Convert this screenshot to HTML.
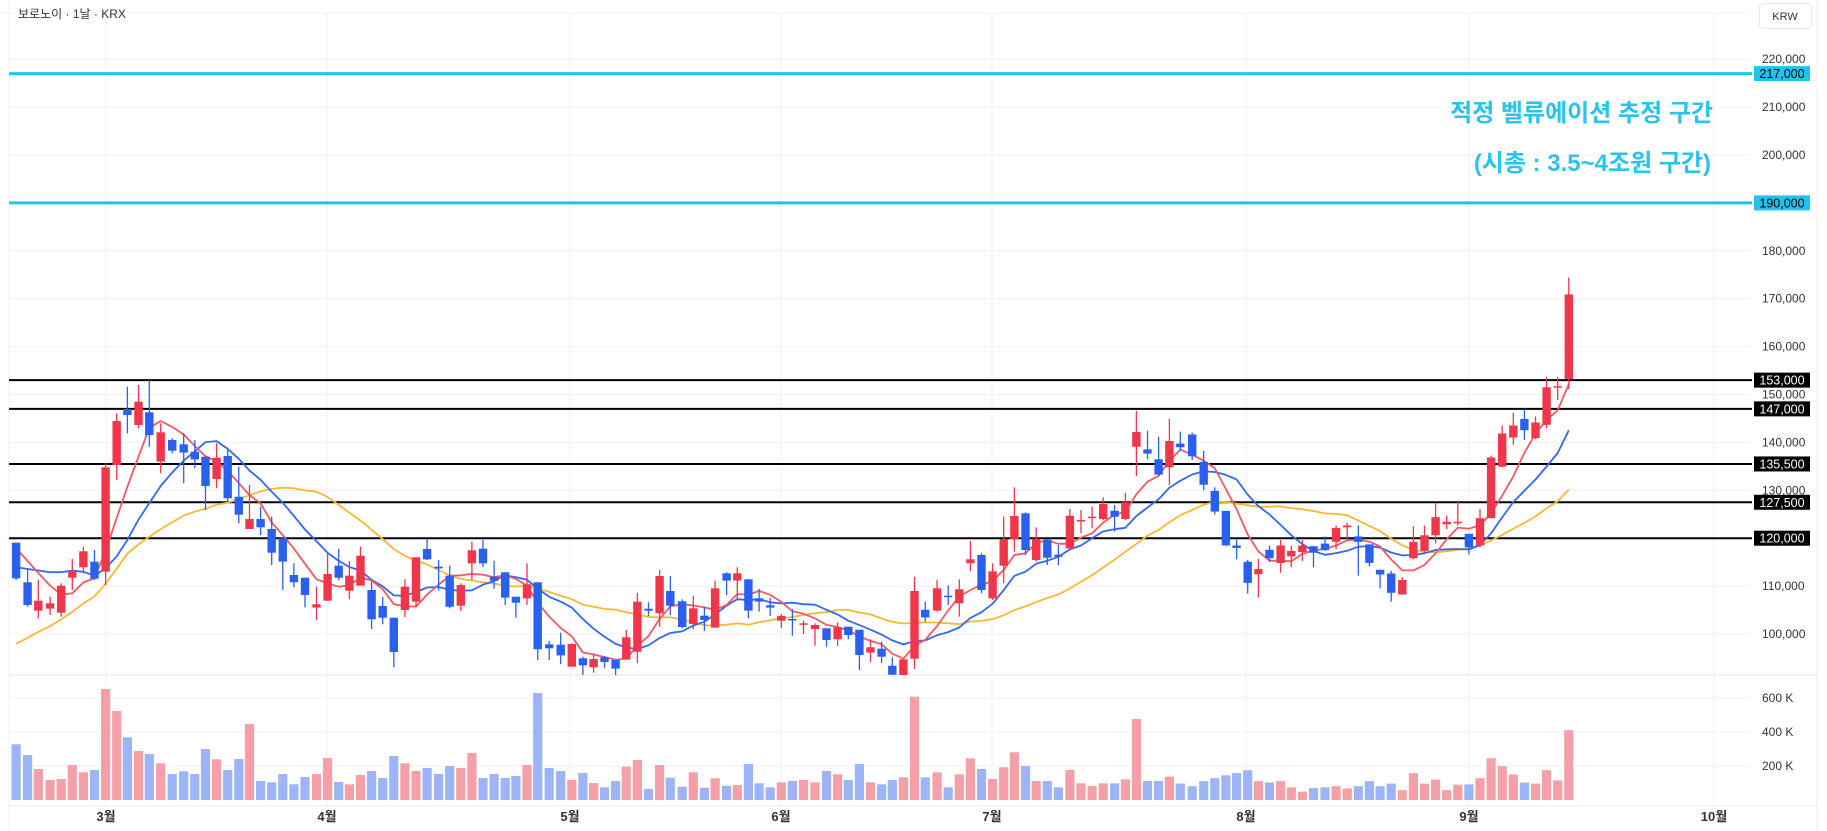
<!DOCTYPE html>
<html><head><meta charset="utf-8"><style>
html,body{margin:0;padding:0;background:#fff;width:1827px;height:831px;overflow:hidden}
svg{display:block}
text{font-family:"Liberation Sans","Noto Sans CJK KR",sans-serif}
</style></head><body>
<svg id="s" width="1827" height="831" xmlns="http://www.w3.org/2000/svg"></svg>
<script>
const S=document.getElementById('s');let h='';
const yP=p=>634-(p-100)*4.79;
const RED='#f0364a',BLUE='#2a60f0',VR='#f5a0a8',VB='#9db5f7';
h+='<rect x="0" y="0" width="1827" height="831" fill="#fff"/>';
h+='<line x1="1817" y1="0" x2="1817" y2="831" stroke="#eceef2"/>';
h+='<line x1="9" y1="0" x2="9" y2="831" stroke="#f2f3f5"/>';
h+='<line x1="0" y1="13" x2="1750" y2="13" stroke="#f2f3f5"/>';
for(let p=100;p<=220;p+=10){const y=yP(p);h+=`<line x1="9" y1="${y}" x2="1750" y2="${y}" stroke="#f0f1f3"/>`;
h+=`<text x="1762" y="${y+4}" font-size="12" fill="#333">${p},000</text>`;}
[[698,'600 K'],[732,'400 K'],[766,'200 K']].forEach(([y,t])=>{h+=`<line x1="9" y1="${y}" x2="1750" y2="${y}" stroke="#f0f1f3"/><text x="1762" y="${y+4}" font-size="12" fill="#333">${t}</text>`});
h+='<line x1="9" y1="675" x2="1817" y2="675" stroke="#e0e3e8"/>';
h+='<line x1="9" y1="806" x2="1817" y2="806" stroke="#eceef2"/>';
[[106,'3월'],[327,'4월'],[570,'5월'],[781,'6월'],[992,'7월'],[1246,'8월'],[1469,'9월'],[1714,'10월']].forEach(([x,t])=>{
h+=`<line x1="${x}" y1="13" x2="${x}" y2="806" stroke="#f0f1f3"/><text x="${x}" y="821" font-size="13" font-weight="bold" fill="#333" text-anchor="middle">${t}</text>`});
const z2=[[42,578,685,578,690,'b'],[72,697,765,655,770,'b'],[100,752,782,690,805,'r'],[131,760,776,740,795,'r'],[160,707,788,700,800,'r'],[189,665,683,627,720,'r'],[218,604,652,590,670,'r'],[247,635,686,600,690,'b'],[276,352,665,340,705,'r'],[305,213,345,190,390,'r'],[333,177,195,110,250,'b'],[362,155,225,105,235,'r'],[390,187,255,90,290,'b'],[420,247,335,220,370,'r'],[450,270,302,265,310,'b'],[480,283,308,250,400,'b'],[509,305,328,270,355,'b'],[537,320,408,320,480,'b'],[566,323,387,280,415,'r'],[595,318,445,300,455,'b'],[624,440,494,350,520,'b'],[652,507,537,405,537,'r'],[681,507,532,470,555,'b'],[710,537,608,500,645,'b'],[739,565,635,565,720,'b'],[768,675,697,640,712,'b'],[797,683,735,683,772,'b'],[827,763,773,710,810,'r'],[856,672,752,610,752,'r'],[885,647,683,596,690,'b'],[913,677,722,633,748,'r'],[942,617,707,590,697,'r'],[971,720,808,693,837,'b'],[1000,768,803,740,823,'b'],[1029,803,906,803,952,'b'],[1058,710,780,688,802,'r'],[1087,622,755,622,770,'r'],[1116,597,628,568,630,'b'],[1146,650,655,630,722,'b'],[1175,677,770,647,775,'b'],[1204,705,767,700,783,'r'],[1233,601,640,575,690,'r'],[1262,596,640,570,650,'b'],[1291,680,692,632,716,'b'],[1320,667,743,667,765,'b'],[1348,740,758,740,803,'b'],[1377,703,745,640,765,'r'],[1405,697,898,697,930,'b'],[1435,883,895,873,930,'b'],[1465,884,916,848,942,'b'],[1494,882,950,880,950,'r'],[1523,925,946,920,975,'b'],[1551,927,952,915,968,'r']];
const z3=[[64,862,876,858,893,'b'],[93,870,896,870,915,'b'],[121,802,869,780,869,'r'],[150,695,845,668,880,'r'],[179,716,722,697,738,'b'],[208,618,730,600,770,'r'],[236,663,707,618,735,'b'],[267,694,771,688,775,'b'],[296,715,762,677,778,'r'],[325,737,750,710,783,'b'],[353,655,773,632,773,'r'],[383,610,632,607,675,'b'],[411,610,632,592,690,'r'],[440,628,722,628,745,'b'],[468,685,695,657,725,'b'],[497,706,713,683,738,'b'],[526,738,752,732,775,'r'],[555,747,750,717,797,'b'],[584,760,763,752,792,'r'],[614,765,777,760,827,'r'],[644,775,810,775,830,'b'],[673,772,808,757,828,'r'],[701,770,795,770,808,'b'],[730,779,855,779,900,'b'],[759,832,848,808,877,'r'],[788,836,860,815,878,'b'],[816,887,914,862,914,'b'],[845,868,915,868,915,'r'],[874,663,866,620,897,'r'],[902,719,742,695,755,'b'],[933,655,722,630,725,'r'],[962,677,678,646,705,'b'],[991,658,700,628,740,'r'],[1020,568,580,513,603,'r'],[1049,555,660,550,670,'b'],[1078,604,685,580,690,'r'],[1107,507,587,440,640,'r'],[1135,438,508,352,545,'r'],[1164,430,540,427,555,'b'],[1192,506,570,472,575,'r'],[1221,509,563,507,585,'b'],[1250,554,560,525,585,'b'],[1280,437,535,417,540,'r'],[1309,450,453,420,490,'r'],[1338,440,442,410,475,'r'],[1367,402,447,382,450,'r'],[1397,422,440,405,485,'b'],[1425,397,447,368,450,'r'],[1454,186,230,123,318,'r'],[1483,238,251,182,268,'b'],[1512,268,314,200,318,'b'],[1540,213,292,147,345,'r']];
const z4=[[27,505,515,472,525,'b'],[58,480,540,475,550,'b'],[88,555,618,525,633,'b'],[117,635,692,625,700,'b'],[146,690,785,690,787,'b'],[174,785,792,767,823,'b'],[203,830,888,825,917,'b'],[231,850,864,822,928,'r'],[260,797,820,785,830,'b'],[289,785,833,770,860,'r'],[317,800,815,785,845,'r'],[346,785,803,770,828,'r'],[375,787,805,787,845,'b'],[405,780,798,760,800,'b'],[434,737,775,730,795,'r'],[463,730,735,722,770,'r'],[492,760,775,730,868,'b'],[521,782,833,782,843,'b'],[549,852,865,852,903,'b'],[578,862,915,855,940,'b'],[607,880,920,872,920,'r'],[636,775,820,732,823,'r'],[665,757,800,730,805,'r'],[694,707,757,668,780,'r'],[723,720,727,703,740,'r'],[752,720,722,665,730,'r'],[781,753,790,753,810,'b'],[810,710,785,685,790,'r'],[839,543,710,538,710,'r'],[868,477,568,455,570,'r'],[897,455,488,420,508,'r'],[926,437,468,410,495,'b'],[955,447,490,430,493,'r'],[984,350,453,322,463,'r'],[1013,347,350,322,385,'r'],[1042,95,328,48,355,'r']];
const bars=[];
const add=(arr,x0,y0,vs)=>arr.forEach(a=>bars.push({x:x0+a[0]/2.613,t:y0+a[1]/vs,b:y0+a[2]/vs,wt:y0+a[3]/vs,wb:y0+a[4]/vs,c:a[5]}));
add(z2,0,350,3);add(z3,580,370,3);add(z4,1170,260,2.75);
const v2=[1183,1215,1257,1290,1287,1245,1267,1260,1017,1083,1162,1203,1212,1240,1272,1264,1272,1197,1228,1260,1227,1122,1293,1297,1272,1303,1281,1272,1224,1296,1303,1275,1263,1284,1218,1240,1263,1254,1272,1248,1254,1209,1284,1272,1284,1278,1245,1029,1254,1263,1290,1269,1299];
const v3=[1252,1233,1190,1170,1257,1185,1223,1250,1207,1253,1225,1247,1245,1182,1240,1252,1237,1233,1230,1237,1203,1213,1230,1182,1237,1243,1230,1222,980,1222,1207,1252,1213,1165,1197,1227,1192,1147,1188,1233,1233,1252,1200,1240,1248,1240,1240,1228,1047,1233,1233,1220];
const v4=[1440,1447,1433,1425,1417,1411,1403,1433,1437,1433,1450,1462,1452,1450,1447,1453,1447,1433,1447,1440,1458,1411,1440,1429,1458,1443,1442,1425,1370,1392,1415,1437,1440,1403,1431,1293];
const vols=[...v2.map(v=>350+v/3),...v3.map(v=>370+v/3),...v4.map(v=>260+v/2.75)];
bars.forEach((b,i)=>{const vt=vols[i];h+=`<rect x="${(b.x-4.6).toFixed(1)}" y="${vt.toFixed(1)}" width="9.2" height="${(800-vt).toFixed(1)}" fill="${b.c=='r'?VR:VB}"/>`});
[153,147,135.5,127.5,120].forEach(p=>{const y=yP(p);h+=`<line x1="9" y1="${y}" x2="1752" y2="${y}" stroke="#000" stroke-width="2"/>`});
[217,190].forEach(p=>{const y=yP(p);h+=`<line x1="9" y1="${y}" x2="1752" y2="${y}" stroke="#22c4ec" stroke-width="3"/>`});
const closes=bars.map(b=>b.c=='r'?b.t:b.b);
const pad=[];for(let i=0;i<10;i++)pad.push(yP(82));for(let i=0;i<5;i++)pad.push(yP(110));for(let i=0;i<4;i++)pad.push(yP(119.5));
const all=[...pad,...closes];
function ma(n,col){let pts=[];for(let i=0;i<bars.length;i++){let s=0;for(let k=0;k<n;k++)s+=all[i+19-k];pts.push(bars[i].x.toFixed(1)+','+(s/n).toFixed(1));}
h+=`<polyline points="${pts.join(' ')}" fill="none" stroke="${col}" stroke-width="1.8" stroke-linejoin="round"/>`;}
ma(20,'#f5b935');ma(10,'#3568ee');ma(5,'#ee5a66');
bars.forEach(b=>{const col=b.c=='r'?RED:BLUE;const bh=Math.max(1.5,b.b-b.t);
h+=`<line x1="${b.x.toFixed(1)}" y1="${b.wt.toFixed(1)}" x2="${b.x.toFixed(1)}" y2="${b.wb.toFixed(1)}" stroke="${col}" stroke-width="1.3"/>`;
h+=`<rect x="${(b.x-4.2).toFixed(1)}" y="${b.t.toFixed(1)}" width="8.4" height="${bh.toFixed(1)}" fill="${col}"/>`});
[[217,'#22c4ec','#000'],[190,'#22c4ec','#000'],[153,'#000','#fff'],[147,'#000','#fff'],[135.5,'#000','#fff'],[127.5,'#000','#fff'],[120,'#000','#fff']].forEach(([p,bg,fg])=>{const y=yP(p);
const t=(p*1000).toLocaleString('en-US');h+=`<rect x="1754" y="${y-7.5}" width="56" height="15" fill="${bg}"/><text x="1782" y="${y+4.5}" font-size="12.5" fill="${fg}" text-anchor="middle">${t}</text>`});
h+='<text x="1713" y="121" font-size="24" font-weight="bold" fill="#29c3ec" text-anchor="end">적정 벨류에이션 추정 구간</text>';
h+='<text x="1711" y="171" font-size="24" font-weight="bold" fill="#29c3ec" text-anchor="end">(시총 : 3.5~4조원 구간)</text>';
h+='<text x="18" y="18" font-size="12" fill="#333">보로노이 · 1날 · KRX</text>';
h+='<rect x="1759.5" y="3.5" width="52" height="25" rx="4" fill="#fff" stroke="#e6e8ec"/><text x="1785" y="20" font-size="11" fill="#333" text-anchor="middle">KRW</text>';
S.innerHTML=h;
</script>
</body></html>
